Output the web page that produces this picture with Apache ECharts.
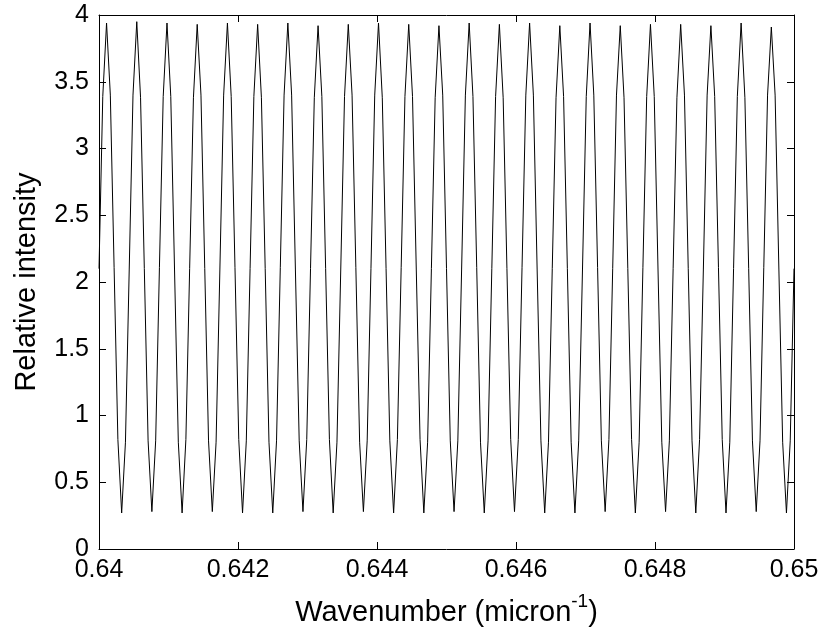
<!DOCTYPE html>
<html>
<head>
<meta charset="utf-8">
<script src="https://cdn.jsdelivr.net/npm/echarts@6/dist/echarts.min.js"></script>
<style>
  html, body { margin: 0; padding: 0; background: #fff; }
  #chart { width: 827px; height: 638px; }
</style>
</head>
<body>
<div id="chart"></div>
<script>
// Sampling grid of the wavenumber axis (micron^-1)
const wavenumberStart = 0.64;
const wavenumberEnd = 0.65;

// Relative intensity samples (uniform wavenumber grid)
const intensity = [
  2.10, 3.39, 3.94, 3.40, 2.11, 0.82, 0.27, 0.80,
  2.09, 3.40, 3.95, 3.38, 2.10, 0.81, 0.28, 0.81,
  2.11, 3.39, 3.94, 3.39, 2.09, 0.80, 0.27, 0.82,
  2.10, 3.38, 3.93, 3.40, 2.10, 0.81, 0.28, 0.80,
  2.09, 3.40, 3.94, 3.39, 2.11, 0.82, 0.27, 0.81,
  2.10, 3.39, 3.93, 3.38, 2.10, 0.80, 0.27, 0.81,
  2.11, 3.40, 3.94, 3.40, 2.09, 0.81, 0.28, 0.82,
  2.10, 3.38, 3.92, 3.39, 2.10, 0.82, 0.27, 0.80,
  2.09, 3.39, 3.93, 3.40, 2.11, 0.80, 0.28, 0.81,
  2.10, 3.40, 3.94, 3.38, 2.10, 0.81, 0.27, 0.82,
  2.11, 3.39, 3.93, 3.39, 2.09, 0.82, 0.27, 0.80,
  2.10, 3.38, 3.92, 3.40, 2.10, 0.81, 0.28, 0.81,
  2.09, 3.40, 3.94, 3.39, 2.11, 0.80, 0.27, 0.81,
  2.10, 3.39, 3.93, 3.38, 2.10, 0.82, 0.28, 0.82,
  2.11, 3.40, 3.94, 3.40, 2.09, 0.81, 0.27, 0.80,
  2.10, 3.38, 3.92, 3.39, 2.10, 0.80, 0.27, 0.81,
  2.09, 3.39, 3.94, 3.40, 2.11, 0.81, 0.28, 0.82,
  2.10, 3.40, 3.92, 3.38, 2.10, 0.82, 0.27, 0.80,
  2.11, 3.39, 3.93, 3.39, 2.09, 0.80, 0.28, 0.81,
  2.10, 3.38, 3.93, 3.40, 2.10, 0.81, 0.27, 0.82,
  2.09, 3.40, 3.92, 3.39, 2.11, 0.82, 0.27, 0.80,
  2.10, 3.39, 3.94, 3.38, 2.10, 0.81, 0.28, 0.81,
  2.11, 3.40, 3.91, 3.40, 2.09, 0.80, 0.27, 0.81,
  2.10
];

// Tick labels
const xTicks = ['0.64', '0.642', '0.644', '0.646', '0.648', '0.65'];
const yTicks = ['0', '0.5', '1', '1.5', '2', '2.5', '3', '3.5', '4'];

const xLabel = 'Wavenumber (micron';
const xLabelSup = '-1';
const yLabel = 'Relative intensity';

const n = intensity.length;
const step = (wavenumberEnd - wavenumberStart) / (n - 1);
const seriesData = intensity.map((v, i) => [wavenumberStart + i * step, v]);

const FONT = "'Liberation Sans', Arial, Helvetica, sans-serif";
const axisCommon = {
  axisLine: { show: true, onZero: false, lineStyle: { color: '#000', width: 1 } },
  axisTick: { show: true, inside: true, length: 7, lineStyle: { color: '#000', width: 1 } },
  splitLine: { show: false }
};

function fmtX(v) {
  const s = (+v).toFixed(3).replace(/0+$/, '').replace(/\.$/, '');
  const i = xTicks.indexOf(s);
  return i >= 0 ? xTicks[i] : s;
}
function fmtY(v) {
  const s = String(+(+v).toFixed(1));
  const i = yTicks.indexOf(s);
  return i >= 0 ? yTicks[i] : s;
}

const chart = echarts.init(document.getElementById('chart'), null, { renderer: 'canvas' });
chart.setOption({
  animation: false,
  backgroundColor: '#fff',
  grid: { left: 99, right: 33, top: 15, bottom: 89, containLabel: false },
  xAxis: [
    Object.assign({
      type: 'value', position: 'bottom',
      min: 0.64, max: 0.65, interval: 0.002,
      axisLabel: { show: true, color: '#000', fontFamily: FONT, fontSize: 25, margin: 9, formatter: fmtX },
      name: '{a|' + xLabel + '}{s|' + xLabelSup + '}{a|)}',
      nameLocation: 'middle', nameGap: 43,
      nameTextStyle: {
        color: '#000', fontFamily: FONT, fontSize: 29,
        rich: {
          a: { color: '#000', fontFamily: FONT, fontSize: 29 },
          s: { color: '#000', fontFamily: FONT, fontSize: 19, padding: [0, 0, 22, 0] }
        }
      }
    }, axisCommon),
    Object.assign({
      type: 'value', position: 'top',
      min: 0.64, max: 0.65, interval: 0.002,
      axisLabel: { show: false }
    }, axisCommon)
  ],
  yAxis: [
    Object.assign({
      type: 'value', position: 'left',
      min: 0, max: 4, interval: 0.5,
      axisLabel: { show: true, color: '#000', fontFamily: FONT, fontSize: 25, margin: 10, formatter: fmtY },
      name: yLabel, nameLocation: 'middle', nameGap: 58, nameRotate: 90,
      nameTextStyle: { color: '#000', fontFamily: FONT, fontSize: 29 }
    }, axisCommon),
    Object.assign({
      type: 'value', position: 'right',
      min: 0, max: 4, interval: 0.5,
      axisLabel: { show: false }
    }, axisCommon)
  ],
  series: [{
    type: 'line',
    xAxisIndex: 0, yAxisIndex: 0,
    data: seriesData,
    showSymbol: false,
    symbol: 'none',
    lineStyle: { color: '#000', width: 1 },
    silent: true
  }]
});
</script>
</body>
</html>
